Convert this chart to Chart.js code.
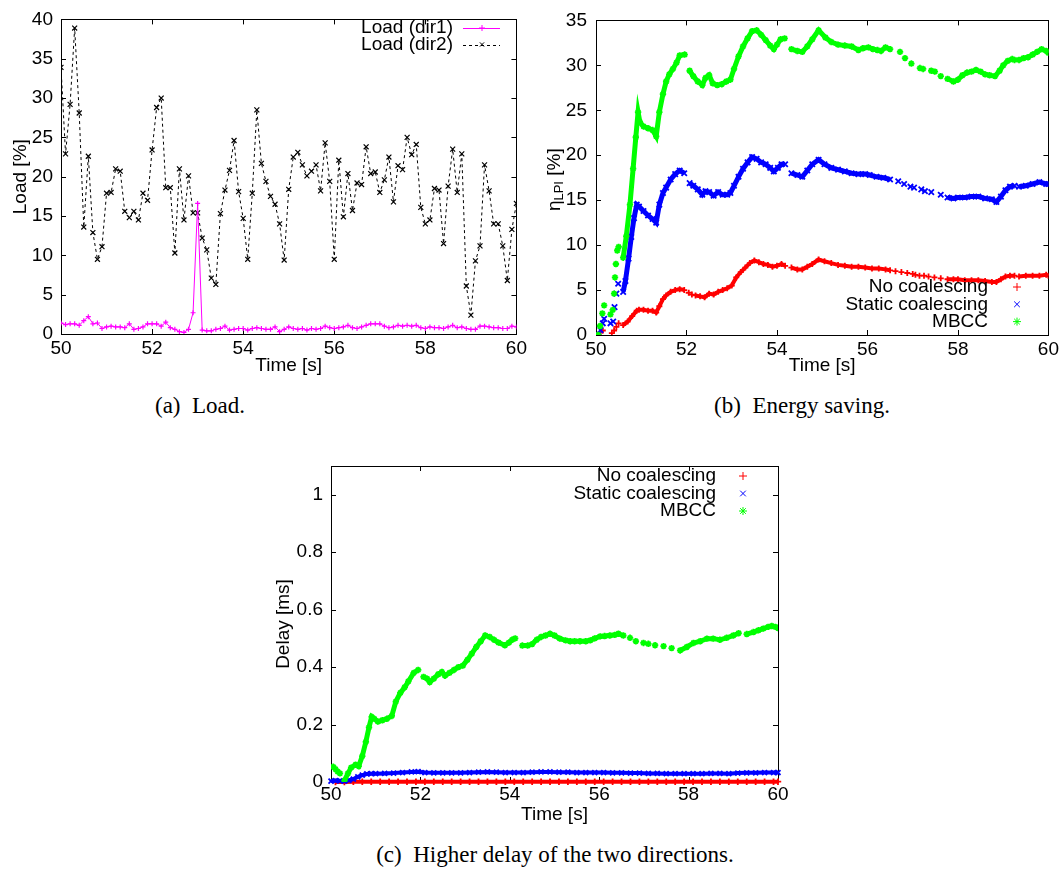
<!DOCTYPE html>
<html><head><meta charset="utf-8">
<script src="https://cdn.jsdelivr.net/npm/chart.js@4.4.1/dist/chart.umd.min.js"></script>
<style>
html,body{margin:0;padding:0;background:#fff;}
body{width:1062px;height:870px;position:relative;overflow:hidden;}
canvas{position:absolute;}
.cap{position:absolute;font-family:"Liberation Serif","Times New Roman",serif;font-size:23px;color:#000;white-space:nowrap;transform:translate(-50%,-50%);}
</style></head><body>
<canvas id="ca" width="530" height="380" style="left:0;top:0"></canvas>
<canvas id="cb" width="532" height="380" style="left:530px;top:0"></canvas>
<canvas id="cc" width="530" height="390" style="left:270px;top:440px"></canvas>
<div class="cap" style="left:200px;top:406px">(a)&ensp;Load.</div>
<div class="cap" style="left:802px;top:406px">(b)&ensp;Energy saving.</div>
<div class="cap" style="left:555px;top:855px">(c)&ensp;Higher delay of the two directions.</div>
<script>
// ---------- (a) Load ----------
const loadTime = [50.0,50.1,50.2,50.3,50.4,50.5,50.6,50.7,50.8,50.9,51.0,51.1,51.2,51.3,51.4,51.5,51.6,51.7,51.8,51.9,52.0,52.1,52.2,52.3,52.4,52.5,52.6,52.7,52.8,52.9,53.0,53.1,53.2,53.3,53.4,53.5,53.6,53.7,53.8,53.9,54.0,54.1,54.2,54.3,54.4,54.5,54.6,54.7,54.8,54.9,55.0,55.1,55.2,55.3,55.4,55.5,55.6,55.7,55.8,55.9,56.0,56.1,56.2,56.3,56.4,56.5,56.6,56.7,56.8,56.9,57.0,57.1,57.2,57.3,57.4,57.5,57.6,57.7,57.8,57.9,58.0,58.1,58.2,58.3,58.4,58.5,58.6,58.7,58.8,58.9,59.0,59.1,59.2,59.3,59.4,59.5,59.6,59.7,59.8,59.9,60.0];
const loadDir1 = [1.4,1.2,1.3,1.3,1.1,1.7,2.2,1.3,1.4,0.7,0.9,1.0,0.9,0.9,0.8,1.3,0.6,0.7,0.9,1.3,1.3,1.3,1.0,1.5,0.8,0.6,0.3,0.2,0.6,2.7,16.6,0.5,0.4,0.4,0.6,0.7,1.0,0.5,0.6,0.7,0.7,0.5,0.7,0.8,0.7,0.6,0.6,0.9,0.3,0.6,0.9,0.7,0.6,0.7,0.5,0.7,0.6,0.7,1.0,0.8,0.7,0.8,0.9,1.1,0.8,0.7,0.9,1.1,1.3,1.3,1.3,1.0,0.8,0.9,1.1,1.0,1.1,1.0,1.1,0.8,0.7,0.9,0.8,0.8,0.7,0.9,1.1,0.8,0.9,0.7,0.6,0.6,1.0,1.0,0.9,0.8,0.8,0.7,0.7,1.0,0.9];
const loadDir2 = [33.9,22.9,29.2,38.9,28.1,13.6,22.6,12.9,9.5,11.1,17.9,18.0,21.0,20.7,15.6,14.8,15.6,14.5,17.9,17.0,23.4,28.8,30.0,18.6,18.6,10.3,21.0,14.5,20.1,15.4,15.4,12.2,10.7,7.1,6.3,15.3,18.3,20.8,24.6,18.1,14.7,9.5,17.9,28.5,21.7,19.4,17.5,16.5,14.0,9.4,18.4,22.5,23.1,21.5,20.1,20.7,21.5,18.2,24.3,19.4,9.5,22.1,14.9,20.4,15.7,19.2,19.0,23.8,20.4,20.6,18.0,19.6,22.5,16.8,21.4,20.9,25.0,22.8,24.1,16.1,14.0,14.5,18.5,18.3,11.5,18.8,23.5,18.0,22.9,6.1,2.4,9.3,11.2,21.5,18.2,14.0,14.0,11.2,6.8,13.3,16.6];
const loadTicksY = [0,40,5];

// ---------- (b) Energy saving (dense runs, null = gap) ----------
const bNoT = [50.6,50.7,50.8,50.9,50.95,51.05,51.15,51.25,51.33,51.4,51.48,51.55,51.65,51.75,51.85,51.95, 52.1, 52.2,52.3,52.4,52.5,52.6,52.7,52.8,52.9,53.0,53.1,53.2,53.3,53.4,53.5,53.6,53.7,53.8,53.9,54.0,54.1,54.18, 54.25, 54.32,54.45,54.56,54.67,54.78,54.92,55.05,55.2,55.35,55.5,55.65,55.8,55.95,56.1,56.25,56.4,56.5, 57.1, 57.77,57.9,58.0,58.15,58.3,58.45,58.6,58.75,58.85,58.95,59.05,59.15,59.25, 59.3, 59.35,59.5,59.65,59.8,59.95,60.0];
const bNoV = [1.1,1.5,2.1,2.7,2.8,2.8,2.7,2.7,2.5,3.2,4.0,4.4,4.8,5.0,5.1,5.0, null, 4.4,4.3,4.2,4.6,4.5,4.8,5.0,5.2,5.5,6.4,7.0,7.5,8.0,8.3,8.1,7.9,7.8,7.6,7.7,7.9,7.7, null, 7.5,7.3,7.3,7.6,7.9,8.4,8.2,8.0,7.8,7.7,7.6,7.6,7.5,7.4,7.4,7.3,7.2, null, 6.2,6.2,6.2,6.1,6.1,6.1,6.0,5.9,5.9,6.2,6.5,6.6,6.6, null, 6.5,6.6,6.6,6.6,6.7,6.6];
const bNoSparseT = [50.05,50.1,50.15,50.35,50.4,50.45,50.5,52.05,52.12,56.62,56.75,56.88,57.0,57.06,57.15,57.25,57.35,57.48,57.62];
const bNoSparseV = [0.0,0.3,0.5,0.2,0.5,0.9,1.3,4.7,4.5,7.1,7.0,6.9,6.8,6.7,6.6,6.6,6.5,6.4,6.3];

const bStT = [50.6,50.65,50.72,50.78,50.84,50.9,50.95,51.05,51.15,51.25,51.33,51.4,51.48,51.55,51.65,51.75,51.85,51.95, 52.01, 52.07,52.15,52.25,52.35,52.42,52.5,52.6,52.7,52.8,52.9,52.97,53.05,53.15,53.25,53.35,53.45,53.55,53.65,53.75,53.85,53.93,54.02,54.1,54.18, 54.25, 54.32,54.45,54.56,54.67,54.78,54.92,55.05,55.2,55.35,55.5,55.65,55.8,55.95,56.05,56.2,56.35,56.5, 57.1, 57.77,57.9,58.0,58.15,58.3,58.45,58.6,58.75,58.85,58.95,59.05,59.15,59.25, 59.3, 59.35,59.5,59.65,59.8,59.95,60.0];
const bStV = [4.8,6.0,8.5,10.9,13.0,14.5,14.3,13.8,13.3,12.9,12.5,14.5,15.8,16.4,17.3,17.9,18.3,18.0, null, 16.9,16.6,16.2,15.6,16.0,15.9,15.5,15.9,15.6,15.6,15.8,16.6,17.6,18.5,19.2,19.8,19.6,19.2,19.0,18.6,18.2,18.6,19.0,19.0, null, 18.0,17.8,17.6,18.3,19.0,19.5,19.0,18.6,18.4,18.2,18.0,17.9,17.9,17.8,17.6,17.5,17.3, null, 15.3,15.2,15.3,15.3,15.4,15.4,15.2,15.1,14.8,15.4,16.1,16.5,16.6, null, 16.5,16.6,16.8,17.0,16.8,16.8];
const bStSparseT = [50.05,50.1,50.15,50.18,50.32,50.38,50.41,50.45,50.49,56.68,56.81,56.95,57.03,57.19,57.27,57.41,57.62];
const bStSparseV = [0.0,0.55,1.3,1.8,1.3,1.5,3.1,4.6,5.7,17.1,16.8,16.5,16.4,16.2,16.0,15.9,15.6];

const bMbT = [50.6,50.67,50.75,50.82,50.88,50.93,50.97,51.05,51.15,51.25,51.33,51.4,51.48,51.55,51.62,51.7,51.78,51.85,51.96, 52.02, 52.07,52.15,52.25,52.35,52.42,52.5,52.58,52.68,52.78,52.88,52.97,53.05,53.15,53.25,53.35,53.45,53.55,53.65,53.75,53.85,53.93,54.0,54.08,54.17, 54.25, 54.32,54.45,54.56,54.67,54.78,54.92,55.07,55.2,55.35,55.5,55.65,55.8,55.9,56.02,56.12,56.22,56.3,56.4,56.5, 57.1, 57.77,57.9,58.0,58.1,58.2,58.3,58.4,58.5,58.6,58.7,58.82,58.92,59.0,59.1,59.2,59.25, 59.3, 59.35,59.45,59.55,59.65,59.75,59.85,59.95,60.0];
const bMbV = [8.6,11.0,14.5,18.5,22.0,24.8,23.7,23.2,23.0,22.8,22.1,24.8,26.8,28.2,29.0,29.6,30.3,31.1,31.2, null, 29.4,28.8,28.2,27.8,28.6,28.9,28.0,27.8,27.9,28.2,28.4,29.6,31.0,32.1,33.0,33.8,33.9,33.4,32.8,32.2,31.8,32.3,32.9,33.0, null, 31.8,31.6,31.5,32.1,32.9,33.9,33.1,32.6,32.3,32.2,32.1,31.7,31.9,32.0,31.8,31.7,31.6,32.0,31.8, null, 28.5,28.2,28.4,28.9,29.2,29.3,29.5,29.3,29.0,28.9,28.8,29.4,30.0,30.5,30.7,30.6, null, 30.6,30.8,30.9,31.2,31.5,31.8,31.6,31.4];
const bMbSparseT = [50.05,50.09,50.14,50.18,50.32,50.37,50.4,50.42,50.44,50.47,50.5,56.72,56.83,56.97,57.16,57.23,57.41,57.49,57.62];
const bMbSparseV = [0.0,1.0,2.4,3.3,2.3,2.8,4.6,6.4,7.9,9.4,9.8,31.5,30.8,30.2,29.7,29.6,29.4,29.3,28.8];

// ---------- (c) Delay ----------
const cNoT = [50.1,50.3,50.5,50.7,50.9,51.1,51.3,51.5,51.7,51.9,52.1,52.3,52.5,52.7,52.9,53.1,53.3,53.5,53.7,53.9,54.1,54.3,54.5,54.7,54.9,55.1,55.3,55.5,55.7,55.9,56.1,56.3,56.5,56.7,56.9,57.1,57.3,57.5,57.7,57.9,58.1,58.3,58.5,58.7,58.9,59.1,59.3,59.5,59.7,59.9,60.0];
const cNoV = [0.0,0.0,0.001,0.001,0.001,0.001,0.001,0.001,0.001,0.001,0.001,0.001,0.001,0.001,0.001,0.001,0.001,0.001,0.001,0.001,0.001,0.001,0.001,0.001,0.001,0.001,0.001,0.001,0.001,0.001,0.001,0.001,0.001,0.001,0.001,0.001,0.001,0.001,0.001,0.001,0.001,0.001,0.001,0.001,0.001,0.001,0.001,0.001,0.001,0.001,0.001];
const cStT = [50.0,50.1,50.2,50.3,50.4,50.5,50.6,50.7,50.8,50.9,51.0,51.2,51.4,51.6,51.8,51.95,52.1,52.3,52.5,52.7,52.9,53.1,53.3,53.5,53.7,53.9,54.1,54.3,54.5,54.7,54.9,55.1,55.3,55.5,55.7,55.9,56.1,56.3,56.5,56.7,56.9,57.1,57.3,57.5,57.7,57.9,58.1,58.3,58.5,58.7,58.9,59.1,59.3,59.5,59.7,59.9,60.0];
const cStV = [0.003,0.005,0.004,0.003,0.006,0.01,0.018,0.024,0.028,0.029,0.029,0.03,0.031,0.033,0.035,0.036,0.033,0.032,0.032,0.032,0.032,0.033,0.034,0.035,0.034,0.033,0.033,0.033,0.034,0.035,0.035,0.034,0.034,0.033,0.033,0.033,0.033,0.032,0.032,0.031,0.031,0.03,0.03,0.029,0.029,0.029,0.029,0.029,0.03,0.03,0.029,0.031,0.032,0.032,0.033,0.033,0.033];
const cMbT = [50.3,50.38,50.45,50.55,50.62,50.7,50.78,50.85,50.91,50.97,51.05,51.15,51.25,51.36,51.45,51.55,51.65,51.73,51.85,51.95, 52.01, 52.07,52.15,52.21,52.3,52.4,52.48,52.55,52.65,52.75,52.85,52.95,53.05,53.15,53.25,53.35,53.45,53.55,53.65,53.75,53.89,53.98,54.05,54.12, 54.2, 54.28,54.4,54.5,54.6,54.7,54.8,54.9,55.0,55.12,55.25,55.35,55.45,55.57,55.7,55.8,55.9,56.02,56.12,56.24,56.35,56.43,56.54, 57.2, 57.81,57.96,58.11,58.26,58.41,58.55,58.7,58.85,59.0,59.12, 59.2, 59.3,59.45,59.56,59.67,59.78,59.86,59.94,60.0];
const cMbV = [0.005,0.03,0.05,0.06,0.055,0.09,0.14,0.19,0.227,0.22,0.21,0.215,0.22,0.23,0.28,0.31,0.33,0.35,0.38,0.39, null, 0.366,0.36,0.348,0.36,0.375,0.383,0.37,0.38,0.39,0.40,0.405,0.425,0.447,0.47,0.49,0.51,0.505,0.495,0.485,0.476,0.485,0.495,0.5, null, 0.475,0.475,0.48,0.495,0.505,0.51,0.516,0.51,0.499,0.493,0.49,0.49,0.49,0.49,0.493,0.5,0.507,0.508,0.51,0.512,0.516,0.51, null, 0.458,0.47,0.484,0.49,0.499,0.499,0.495,0.502,0.51,0.518, null, 0.515,0.522,0.528,0.534,0.54,0.543,0.54,0.536];
const cMbSparseT = [50.05,50.1,50.15,50.2,56.69,56.82,56.99,57.1,57.25,57.44,57.62];
const cMbSparseV = [0.053,0.045,0.036,0.03,0.502,0.49,0.484,0.481,0.476,0.473,0.466];

const seriesLabels = ['No coalescing','Static coalescing','MBCC'];
const loadLabels = ['Load (dir1)','Load (dir2)'];

// ---------- helpers ----------
const FAM = '"Liberation Sans", Arial, Helvetica, sans-serif';
const FONT = {family: FAM, size: 19};
const fontStr = '19px ' + FAM;
const pts = (T, V) => T.map((t, i) => ({x: t, y: V[i]}));

const gnuFrame = {
  id: 'gnuFrame',
  beforeDatasetsDraw(chart, args, o) {
    const {ctx, chartArea: a, scales} = chart;
    const L = o.tick;
    ctx.save();
    ctx.strokeStyle = '#000'; ctx.lineWidth = 1;
    ctx.beginPath();
    scales.x.ticks.forEach(t => {
      const px = Math.round(scales.x.getPixelForValue(t.value)) + 0.5;
      ctx.moveTo(px, a.bottom); ctx.lineTo(px, a.bottom - L);
      ctx.moveTo(px, a.top); ctx.lineTo(px, a.top + L);
    });
    scales.y.ticks.forEach(t => {
      const py = Math.round(scales.y.getPixelForValue(t.value)) + 0.5;
      ctx.moveTo(a.left, py); ctx.lineTo(a.left + L, py);
      ctx.moveTo(a.right, py); ctx.lineTo(a.right - L, py);
    });
    ctx.stroke();
    ctx.strokeRect(Math.round(a.left) + 0.5, Math.round(a.top) + 0.5, Math.round(a.right - a.left), Math.round(a.bottom - a.top));
    ctx.restore();
  }
};

const gnuLegend = {
  id: 'gnuLegend',
  afterDraw(chart, args, o) {
    const ctx = chart.ctx;
    ctx.save();
    ctx.font = fontStr; ctx.textAlign = 'right'; ctx.textBaseline = 'middle';
    o.items.forEach((di, i) => {
      const ds = chart.data.datasets[di];
      const y = o.y + i * o.dy;
      ctx.fillStyle = '#000';
      ctx.fillText(ds.label, o.textX, y);
      ctx.strokeStyle = ds.borderColor; ctx.fillStyle = ds.borderColor; ctx.lineWidth = 1;
      if (o.line) {
        ctx.setLineDash(ds.borderDash || []);
        ctx.beginPath(); ctx.moveTo(o.x0, Math.round(y) + 0.5); ctx.lineTo(o.x1, Math.round(y) + 0.5); ctx.stroke();
        ctx.setLineDash([]);
      }
      Chart.helpers.drawPoint(ctx, {pointStyle: ds.pointStyle, radius: o.r, rotation: 0, borderWidth: 1}, o.markX, y);
    });
    ctx.restore();
  }
};

const gnuYTitle = {
  id: 'gnuYTitle',
  afterDraw(chart, args, o) {
    const ctx = chart.ctx, a = chart.chartArea;
    ctx.save();
    ctx.translate(o.x, (a.top + a.bottom) / 2 + o.dy);
    ctx.rotate(-Math.PI / 2);
    ctx.fillStyle = '#000'; ctx.textBaseline = 'alphabetic'; ctx.textAlign = 'left';
    const small = '13px ' + FAM;
    ctx.font = fontStr; const w1 = ctx.measureText(o.main).width, w3 = ctx.measureText(o.tail).width;
    ctx.font = small; const w2 = ctx.measureText(o.sub).width;
    let x = -(w1 + w2 + w3) / 2;
    ctx.font = fontStr; ctx.fillText(o.main, x, 0); x += w1;
    ctx.font = small; ctx.fillText(o.sub, x, o.subShift); x += w2;
    ctx.font = fontStr; ctx.fillText(o.tail, x, 0);
    ctx.restore();
  }
};

function makeOptions(o) {
  const yTicks = {stepSize: o.ystep, color: '#000', font: FONT, padding: o.yTickPad, includeBounds: false};
  if (o.yFmt) yTicks.callback = o.yFmt;
  return {
    responsive: false, animation: false, devicePixelRatio: 1, events: [],
    layout: {padding: o.pad},
    plugins: {legend: {display: false}, tooltip: {enabled: false}, gnuFrame: {tick: 5}, gnuLegend: o.legend, gnuYTitle: o.yTitleCustom || false},
    scales: {
      x: {type: 'linear', min: 50, max: 60,
        ticks: {stepSize: 2, color: '#000', font: FONT, padding: o.xTickPad, maxRotation: 0, autoSkip: false},
        grid: {display: false, drawTicks: false}, border: {display: false},
        title: {display: true, text: 'Time [s]', color: '#000', font: FONT, padding: {top: 0, bottom: o.xTitlePad}},
        afterFit(s) { s.height = o.xh; }},
      y: {type: 'linear', min: o.ymin, max: o.ymax,
        ticks: yTicks,
        grid: {display: false, drawTicks: false}, border: {display: false},
        title: {display: !!o.yTitle, text: o.yTitle || '', color: '#000', font: FONT, padding: {top: o.yTitlePad || 0, bottom: 0}},
        afterFit(s) { s.width = o.yw; }}
    }
  };
}
const PLUGS = [gnuFrame, gnuLegend, gnuYTitle];

// ---------- chart (a) ----------
new Chart(document.getElementById('ca'), {
  type: 'scatter',
  data: {datasets: [
    {label: loadLabels[0], data: pts(loadTime, loadDir1), showLine: true, borderColor: '#ff00ff', backgroundColor: '#ff00ff', borderWidth: 1, pointStyle: 'cross', pointRadius: 2.5, pointBorderWidth: 1.2},
    {label: loadLabels[1], data: pts(loadTime, loadDir2), showLine: true, borderColor: '#000000', backgroundColor: '#000000', borderWidth: 1, borderDash: [3, 3], pointStyle: 'crossRot', pointRadius: 3.5, pointBorderWidth: 1.2}
  ]},
  options: makeOptions({pad: {left: 0, top: 17, right: 13, bottom: 0}, yw: 61, xh: 46,
    ymin: loadTicksY[0], ymax: loadTicksY[1], ystep: loadTicksY[2], yTickPad: 8, xTickPad: 3, xTitlePad: 3,
    yTitle: 'Load [%]', yTitlePad: 9,
    legend: {items: [0, 1], textX: 453, y: 28, dy: 16.5, line: true, x0: 463, x1: 500, markX: 482, r: 3}}),
  plugins: PLUGS
});

// ---------- chart (b) ----------
function sets(denseData, sparseData, color, style, r, bw, order, label) {
  return [
    {label: label, data: denseData, showLine: true, borderColor: color, backgroundColor: color, borderWidth: bw, pointStyle: style, pointRadius: r, pointBorderWidth: 1.8, order: order},
    {label: '', data: sparseData, showLine: false, borderColor: color, backgroundColor: color, pointStyle: style, pointRadius: r, pointBorderWidth: 1.8, order: order}
  ];
}
const bNo = sets(pts(bNoT, bNoV), pts(bNoSparseT, bNoSparseV), '#ff0000', 'cross', 3, 4, 3, seriesLabels[0]);
const bSt = sets(pts(bStT, bStV), pts(bStSparseT, bStSparseV), '#0000ff', 'crossRot', 3.8, 5, 2, seriesLabels[1]);
const bMb = sets(pts(bMbT, bMbV), pts(bMbSparseT, bMbSparseV), '#00ff00', 'star', 3.2, 5, 1, seriesLabels[2]);
new Chart(document.getElementById('cb'), {
  type: 'scatter',
  data: {datasets: [bNo[0], bSt[0], bMb[0], bNo[1], bSt[1], bMb[1]]},
  options: makeOptions({pad: {left: 0, top: 18, right: 11, bottom: 0}, yw: 66, xh: 45,
    ymin: 0, ymax: 35, ystep: 5, yTickPad: 9, xTickPad: 3, xTitlePad: 3,
    yTitle: '', yTitleCustom: {x: 30, dy: 2, main: 'η', sub: 'LPI', tail: ' [%]', subShift: 3},
    legend: {items: [0, 1, 2], textX: 458, y: 287, dy: 17.3, line: false, markX: 487, r: 4}}),
  plugins: PLUGS
});

// ---------- chart (c) ----------
const cNo = sets(pts(cNoT, cNoV), [], '#ff0000', 'cross', 3.2, 4, 3, seriesLabels[0]);
const cSt = sets(pts(cStT, cStV), [], '#0000ff', 'crossRot', 3.5, 4, 2, seriesLabels[1]);
const cMb = sets(pts(cMbT, cMbV), pts(cMbSparseT, cMbSparseV), '#00ff00', 'star', 3.2, 5, 1, seriesLabels[2]);
cNo[0].clip = false; cSt[0].clip = false;
new Chart(document.getElementById('cc'), {
  type: 'scatter',
  data: {datasets: [cNo[0], cSt[0], cMb[0], cMb[1]]},
  options: makeOptions({pad: {left: 0, top: 26, right: 22, bottom: 0}, yw: 61, xh: 48,
    ymin: 0, ymax: 1.1, ystep: 0.2, yTickPad: 8, xTickPad: 1, xTitlePad: 4,
    yFmt: v => String(Math.round(v * 10) / 10),
    yTitle: 'Delay [ms]', yTitlePad: 2,
    legend: {items: [0, 1, 2], textX: 446, y: 36, dy: 17.5, line: false, markX: 473, r: 4}}),
  plugins: PLUGS
});
</script>
</body></html>
